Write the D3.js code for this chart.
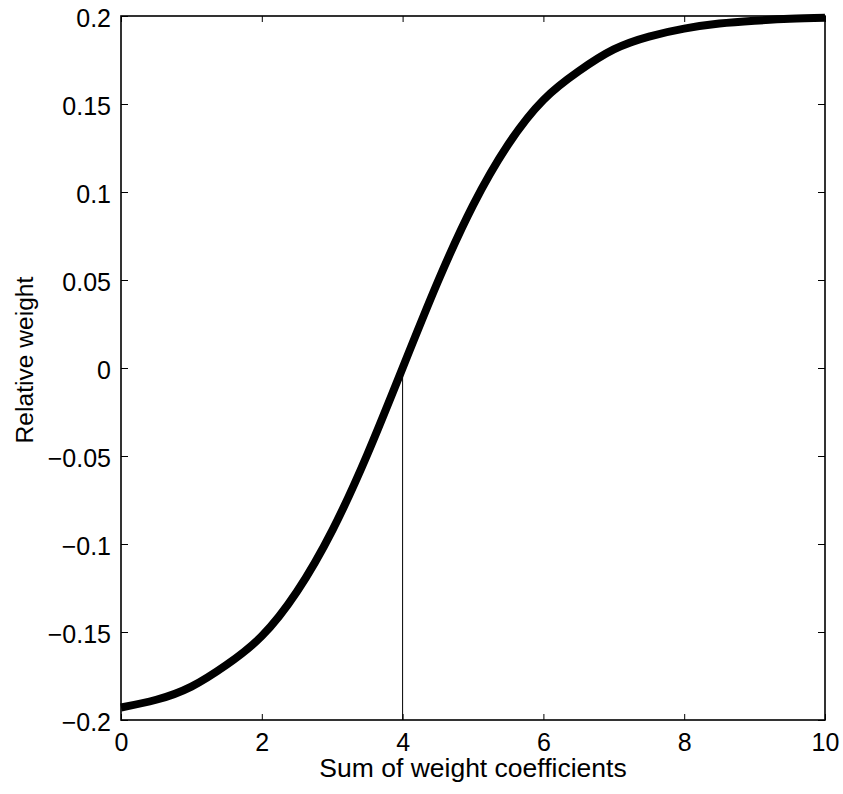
<!DOCTYPE html>
<meta charset="utf-8">
<body style="margin:0;background:#fff">
<div id="chart"></div>
<script src="https://cdn.jsdelivr.net/npm/d3@7"></script>
<script>
// values
var sumCoef = [0, 0.5, 1, 1.5, 2, 2.5, 3, 3.5, 4, 4.5, 5, 5.5, 6, 6.5, 7, 7.5, 8, 8.5, 9, 9.5, 10];
var relWeight = [-0.1929, -0.1885, -0.1810, -0.1686, -0.1523, -0.1270, -0.0924, -0.0490, 0,
                 0.0490, 0.0924, 0.1270, 0.1523, 0.1686, 0.1810, 0.1883, 0.1928, 0.1957, 0.1973, 0.1984, 0.1990];
var markerX = [4, 4];
var markerY = [-0.2, 0];
var xTicks = [0, 2, 4, 6, 8, 10];
var yTicks = [-0.2, -0.15, -0.1, -0.05, 0, 0.05, 0.1, 0.15, 0.2];

var width = 843, height = 794;
var padL = 121, padR = 825, padT = 16, padB = 720;
var font = "'Liberation Sans', Arial, Helvetica, sans-serif";

var x = d3.scaleLinear().domain([0, 10]).range([padL, padR]);
var y = d3.scaleLinear().domain([-0.2, 0.2]).range([padB, padT]);

var svg = d3.select("#chart").append("svg")
    .attr("width", width)
    .attr("height", height);

svg.append("rect")
    .attr("width", width).attr("height", height)
    .attr("fill", "#fff");

function fmt(d) {
  var s = String(+d.toFixed(2));
  return s.replace("-", "\u2212");
}

// bottom axis, ticks pointing in
var xAxis = svg.append("g")
    .attr("transform", "translate(0," + padB + ")")
    .call(d3.axisBottom(x).tickValues(xTicks).tickSize(-6).tickPadding(13).tickFormat(fmt));
// top axis (mirror ticks, no labels)
svg.append("g")
    .attr("transform", "translate(0," + padT + ")")
    .call(d3.axisTop(x).tickValues(xTicks).tickSize(-6).tickFormat(""));
// left axis
var yAxis = svg.append("g")
    .attr("transform", "translate(" + padL + ",0)")
    .call(d3.axisLeft(y).tickValues(yTicks).tickSize(-7).tickPadding(10).tickFormat(fmt));
// right axis
svg.append("g")
    .attr("transform", "translate(" + padR + ",0)")
    .call(d3.axisRight(y).tickValues(yTicks).tickSize(-7).tickFormat(""));

svg.selectAll(".domain").remove();
svg.selectAll(".tick line").attr("stroke", "#000").attr("stroke-width", 1);
svg.selectAll(".tick text")
    .attr("font-family", font)
    .attr("font-size", 25)
    .attr("fill", "#000");
yAxis.selectAll(".tick text").attr("dy", "0.42em");
xAxis.selectAll(".tick text").attr("dy", "0.71em");

// box
svg.append("rect")
    .attr("x", padL).attr("y", padT)
    .attr("width", padR - padL).attr("height", padB - padT)
    .attr("fill", "none")
    .attr("stroke", "#000")
    .attr("stroke-width", 1.6);

// vertical marker line
svg.append("line")
    .attr("x1", x(markerX[0])).attr("x2", x(markerX[1]))
    .attr("y1", y(markerY[0])).attr("y2", y(markerY[1]))
    .attr("stroke", "#000")
    .attr("stroke-width", 1);

// curve
var line = d3.line()
    .x(function(d, i) { return x(sumCoef[i]); })
    .y(function(d) { return y(d); })
    .curve(d3.curveNatural);

svg.append("path")
    .attr("d", line(relWeight))
    .attr("fill", "none")
    .attr("stroke", "#000")
    .attr("stroke-width", 8)
    .attr("stroke-linecap", "butt");

// axis titles
svg.append("text")
    .attr("x", (padL + padR) / 2)
    .attr("y", 777)
    .attr("text-anchor", "middle")
    .attr("font-family", font)
    .attr("font-size", 26.5)
    .text("Sum of weight coefficients");

svg.append("text")
    .attr("transform", "translate(33,360) rotate(-90)")
    .attr("text-anchor", "middle")
    .attr("font-family", font)
    .attr("font-size", 24.6)
    .text("Relative weight");
</script>
</body>
